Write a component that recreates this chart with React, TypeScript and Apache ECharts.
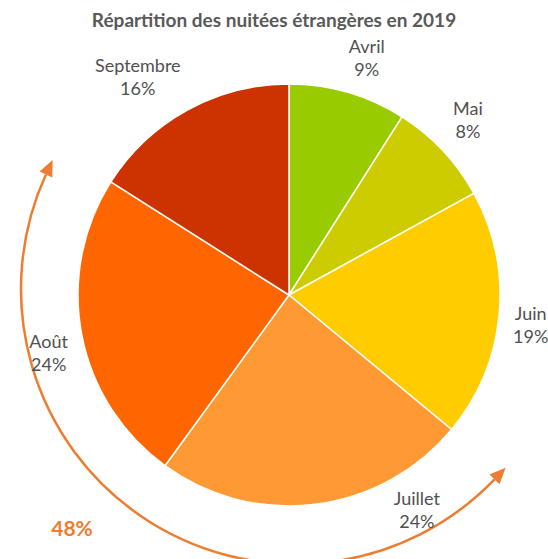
import React, { useEffect, useRef } from "react";
import * as echarts from "echarts";

const months = ["Avril", "Mai", "Juin", "Juillet", "Août", "Septembre"];
const shares = [9, 8, 19, 24, 24, 16];
const colors = ["#99CC00", "#CCCC00", "#FFCC00", "#FF9933", "#FF6600", "#CC3300"];
const titleText = "Répartition des nuitées étrangères en 2019";
const summerShare = "48%";
// manual label shift (px) as in the reference (Juillet label moved)
const labelShift: Record<string, [number, number]> = { Juillet: [91, -34] };

const W = 548;
const H = 559;
const CX = 289;
const CY = 295;
const R = 211;
const LABEL_R = 225;

const ARC_CX = 296;
const ARC_CY = 289;
const ARC_R = 275;
const ORANGE = "#ED7D31";

export default function App() {
  const ref = useRef<HTMLDivElement>(null);
  useEffect(() => {
    document.body.style.margin = "0";
    const chart = echarts.init(ref.current!, undefined, { renderer: "svg" });
    const total = shares.reduce((a, b) => a + b, 0);
    const mids: number[] = [];
    let acc = 0;
    shares.forEach((v) => {
      mids.push(((acc + v / 2) / total) * 360);
      acc += v;
    });
    const clamp = (v: number) => Math.max(-1, Math.min(1, v));

    const deg = Math.PI / 180;
    const a1 = 43.8 * deg;
    const a2 = 204.6 * deg;
    const L = 16;
    const hw = 7;
    const head = (phi: number, dirSign: number) => {
      const bx = ARC_CX + ARC_R * Math.cos(phi);
      const by = ARC_CY + ARC_R * Math.sin(phi);
      const tx = -Math.sin(phi) * dirSign;
      const ty = Math.cos(phi) * dirSign;
      const nx = Math.cos(phi);
      const ny = Math.sin(phi);
      return [
        [bx + L * tx, by + L * ty],
        [bx + hw * nx, by + hw * ny],
        [bx - hw * nx, by - hw * ny],
      ];
    };

    chart.setOption({
      animation: false,
      title: {
        text: titleText,
        left: "center",
        top: 5,
        textStyle: { fontFamily: "Lato", fontSize: 19, fontWeight: "bold", color: "#595959" },
      },
      series: [
        {
          type: "pie",
          center: [CX, CY],
          radius: [0, R],
          startAngle: 90,
          clockwise: true,
          avoidLabelOverlap: false,
          itemStyle: { borderColor: "#ffffff", borderWidth: 1.5 },
          label: {
            show: true,
            position: "outside",
            formatter: (p: any) => `${p.name}\n${p.value}%`,
            fontFamily: "Lato",
            fontSize: 18,
            lineHeight: 23,
            color: "#505050",
          },
          labelLine: { show: false },
          emphasis: { disabled: true },
          labelLayout: (params: any) => {
            const i = params.dataIndex;
            const th = mids[i] * deg;
            const s = Math.sin(th);
            const c = Math.cos(th);
            const ax = CX + LABEL_R * s;
            const ay = CY - LABEL_R * c;
            const w = params.labelRect.width;
            const h = params.labelRect.height;
            let x = ax + clamp(3 * s) * (w / 2);
            let y = ay + clamp(-3 * c) * (h / 2) + 2;
            const sh = labelShift[months[i]];
            if (sh) {
              x += sh[0];
              y += sh[1];
            }
            return { x, y, align: "center", verticalAlign: "middle" };
          },
          data: months.map((m, i) => ({ name: m, value: shares[i], itemStyle: { color: colors[i] } })),
        },
      ],
      graphic: [
        {
          type: "arc",
          shape: { cx: ARC_CX, cy: ARC_CY, r: ARC_R, startAngle: a1, endAngle: a2, clockwise: true },
          style: { stroke: ORANGE, lineWidth: 2.5, fill: "none" },
          silent: true,
        },
        {
          type: "polygon",
          shape: { points: head(a2, 1) },
          style: { fill: ORANGE },
          silent: true,
        },
        {
          type: "polygon",
          shape: { points: head(a1, -1) },
          style: { fill: ORANGE },
          silent: true,
        },
        {
          type: "text",
          x: 72,
          y: 527,
          style: {
            text: summerShare,
            fontFamily: "Lato",
            fontSize: 21,
            fontWeight: "bold",
            fill: ORANGE,
            align: "center",
            verticalAlign: "middle",
          },
          silent: true,
        },
      ],
    });
    return () => chart.dispose();
  }, []);
  return <div ref={ref} style={{ width: W, height: H, position: "absolute", left: 0, top: 0 }} />;
}
